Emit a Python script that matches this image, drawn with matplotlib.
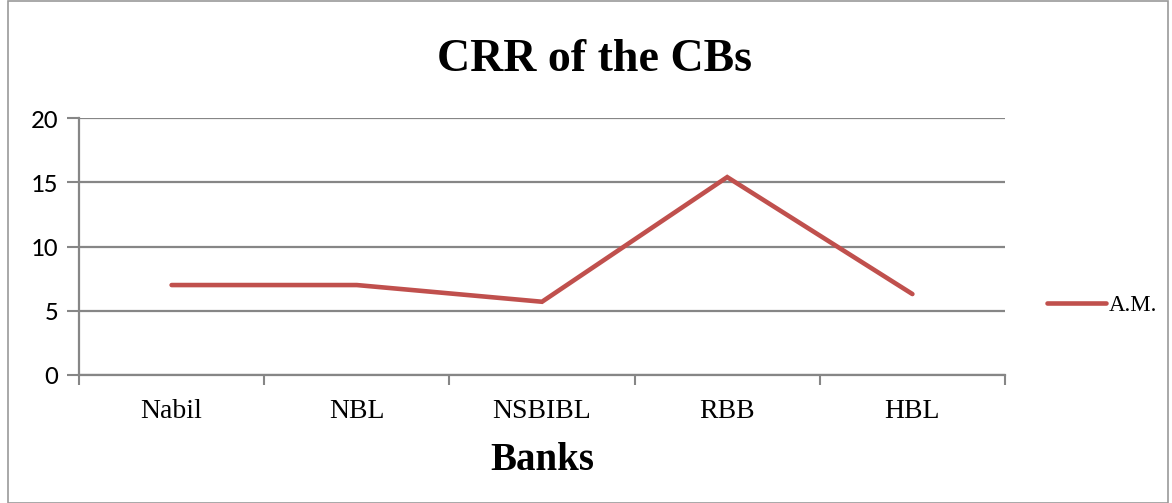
import matplotlib

matplotlib.use("Agg")
import matplotlib.pyplot as plt
from matplotlib.patches import Rectangle
import numpy as np

banks = ["Nabil", "NBL", "NSBIBL", "RBB", "HBL"]
crr_am = [7.0, 7.0, 5.7, 15.4, 6.3]
y_ticks = [0, 5, 10, 15, 20]

RED = "#C0504D"
GRID = "#868686"
SERIF = ["Liberation Serif", "DejaVu Serif"]
SANS = ["Carlito", "Liberation Sans", "DejaVu Sans"]

fig = plt.figure(figsize=(11.72, 5.03), dpi=100)
fig.patches.append(Rectangle((0.007, 0.0), 0.99, 0.998, transform=fig.transFigure,
                             fill=False, edgecolor="#9a9a9a", linewidth=1.2))

W, H = 1172, 503
ax = fig.add_axes([79 / W, 1 - 375 / H, (1005 - 79) / W, (375 - 118) / H])

x = np.arange(len(banks))
ax.plot(x, crr_am, color=RED, linewidth=3.3, solid_capstyle="round",
        solid_joinstyle="miter", label="A.M.", zorder=3)

ax.set_xlim(-0.5, len(banks) - 0.5)
ax.set_ylim(0, 20)
ax.set_yticks(y_ticks)
ax.set_yticklabels([str(v) for v in y_ticks], family=SANS, fontsize=19.5)
ax.set_xticks(x)
ax.set_xticklabels(banks, family=SERIF, fontsize=20)
ax.set_xticks(np.arange(-0.5, len(banks)), minor=True)
ax.tick_params(axis="x", which="major", length=0, pad=17)
ax.tick_params(axis="x", which="minor", length=7, width=1.5, color=GRID, direction="out")
ax.tick_params(axis="y", length=9, width=1.5, color=GRID, direction="out", pad=6)

ax.grid(axis="y", color=GRID, linewidth=1.6)
ax.set_axisbelow(True)
for side in ("top", "right"):
    ax.spines[side].set_visible(False)
for side in ("left", "bottom"):
    ax.spines[side].set_color(GRID)
    ax.spines[side].set_linewidth(1.6)

ax.set_xlabel("Banks", family=SERIF, fontsize=28, fontweight="bold", labelpad=13)
fig.text(595 / W, 1 - 60 / H, "CRR of the CBs", family=SERIF, fontsize=33,
         fontweight="bold", ha="center", va="center")

ax.legend(loc="center left", bbox_to_anchor=(1.035, 0.27), frameon=False,
          prop={"family": SERIF, "size": 16.5}, handlelength=2.6, handletextpad=0.1,
          borderaxespad=0)

fig.savefig("out.png", dpi=100)
